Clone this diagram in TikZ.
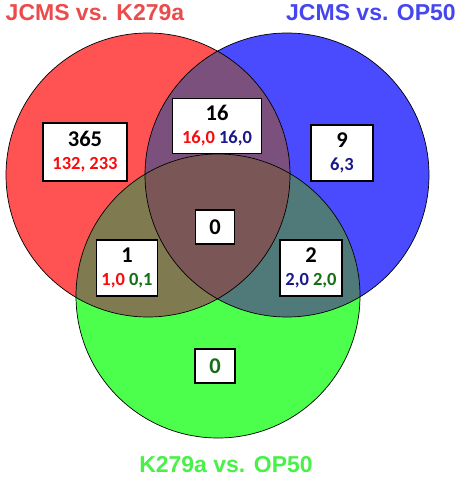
\documentclass[tikz,border=0pt]{standalone}
\usepackage{fontspec}
\setmainfont{Carlito}
\newfontfamily\titlefont{Liberation Sans}

\definecolor{setred}{RGB}{255,82,82}
\definecolor{setblue}{RGB}{74,74,255}
\definecolor{setgreen}{RGB}{77,255,77}
\definecolor{setrb}{RGB}{124,80,124}
\definecolor{setrg}{RGB}{128,122,80}
\definecolor{setbg}{RGB}{80,122,122}
\definecolor{setall}{RGB}{122,86,86}
\definecolor{numred}{RGB}{250,10,10}
\definecolor{numblue}{RGB}{25,25,140}
\definecolor{numgreen}{RGB}{20,110,20}

\tikzstyle{set red}=[fill=setred]
\tikzstyle{set blue}=[fill=setblue]
\tikzstyle{set green}=[fill=setgreen]
\tikzstyle{rim}=[draw=black, line width=0.7pt]
\tikzstyle{count}=[draw=black, line width=1.6pt, fill=white, inner sep=0pt, align=center,
  font=\fontsize{22.5}{24}\selectfont\bfseries]
\tikzstyle{title}=[font=\titlefont\fontsize{23}{25}\selectfont\bfseries]

\newcommand{\sub}[1]{{\fontsize{18.5}{19}\selectfont #1}}

\begin{document}
\begin{tikzpicture}[x=1pt, y=-1pt]
	\useasboundingbox (0,0) rectangle (459,477);

	% Centres of the three sets
	\coordinate (red)   at (148,175);
	\coordinate (blue)  at (287,175);
	\coordinate (green) at (218,296);

	% Single sets
	\fill[set red]   (red)   circle[radius=142];
	\fill[set blue]  (blue)  circle[radius=142];
	\fill[set green] (green) circle[radius=142];

	% Overlaps
	\begin{scope}
		\clip (red) circle[radius=142];
		\fill[setrb] (blue) circle[radius=142];
		\fill[setrg] (green) circle[radius=142];
	\end{scope}
	\begin{scope}
		\clip (blue) circle[radius=142];
		\fill[setbg] (green) circle[radius=142];
	\end{scope}
	\begin{scope}
		\clip (red) circle[radius=142];
		\clip (blue) circle[radius=142];
		\fill[setall] (green) circle[radius=142];
	\end{scope}

	\foreach \c in {red, blue, green}{ \draw[rim] (\c) circle[radius=142]; }

	% Titles
	\node[title, text=setred!92!black]    (tred)   at (95,13)  {JCMS vs. K279a};
	\node[title, text=setblue!94!black]   (tblue)  at (371,13) {JCMS vs. OP50};
	\node[title, text=setgreen!94!black]  (tgreen) at (226,465) {K279a vs. OP50};

	% Counts
	\node[count, minimum width=84, minimum height=58] (c365) at (85,152)
		{365\\[-1pt]\sub{\color{numred}132, 233}};
	\node[count, minimum width=89, minimum height=55] (c16) at (217,126)
		{16\\[-1pt]\sub{\color{numred}16,0 \color{numblue}16,0}};
	\node[count, minimum width=62, minimum height=56] (c9) at (342,153)
		{9\\[-1pt]\sub{\color{numblue}6,3}};
	\node[count, minimum width=61, minimum height=56] (c1) at (127,268)
		{1\\[-1pt]\sub{\color{numred}1,0 \color{numgreen}0,1}};
	\node[count, minimum width=39, minimum height=34] (c0) at (215,227) {0};
	\node[count, minimum width=62, minimum height=56] (c2) at (311,268)
		{2\\[-1pt]\sub{\color{numblue}2,0 \color{numgreen}2,0}};
	\node[count, minimum width=40, minimum height=34, text=numgreen] (cg0) at (215,366) {0};
\end{tikzpicture}
\end{document}
